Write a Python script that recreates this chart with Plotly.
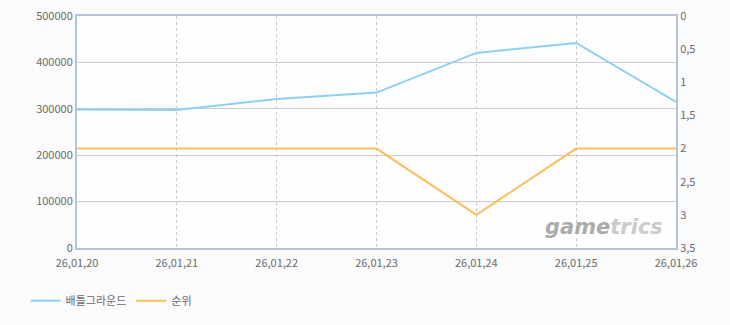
import plotly.graph_objects as go

dates = ["26,01,20", "26,01,21", "26,01,22", "26,01,23", "26,01,24", "26,01,25", "26,01,26"]
viewers = [298500, 297500, 321000, 335000, 420500, 442000, 315000]
rank = [2, 2, 2, 2, 3, 2, 2]
rank_ticks = [0, 0.5, 1, 1.5, 2, 2.5, 3, 3.5]
rank_tick_text = ["0", "0,5", "1", "1,5", "2", "2,5", "3", "3,5"]
left_ticks = [0, 100000, 200000, 300000, 400000, 500000]

BLUE = "#8fd0f2"
ORANGE = "#fcbd5a"
AXIS = "#b3c5d7"
TXT = "#6a6a6a"
FONT = "Noto Sans CJK KR, DejaVu Sans, sans-serif"

fig = go.Figure()
fig.add_trace(go.Scatter(x=dates, y=viewers, mode="lines", name="배틀그라운드",
                         line=dict(color=BLUE, width=2), yaxis="y"))
fig.add_trace(go.Scatter(x=dates, y=rank, mode="lines", name="순위",
                         line=dict(color=ORANGE, width=2), yaxis="y2"))

fig.update_layout(
    width=730, height=325,
    margin=dict(l=77, r=54, t=16, b=77, autoexpand=False),
    paper_bgcolor="#fbfbfb",
    plot_bgcolor="#fefefe",
    font=dict(family=FONT, size=11, color=TXT),
    showlegend=True,
    legend=dict(orientation="h", x=0.035, y=0.075, xref="container", yref="container",
                xanchor="left", yanchor="middle", font=dict(size=11, color=TXT),
                itemwidth=30, bgcolor="rgba(0,0,0,0)"),
    xaxis=dict(type="category", range=[0, 6], showgrid=True, gridcolor="#c9c9c9",
               griddash="3px,3px", gridwidth=1, showline=True, linecolor=AXIS, linewidth=2,
               mirror=True, ticks="", tickfont=dict(size=11, color=TXT), zeroline=False,
               ticklabelstandoff=4, automargin=False),
    yaxis=dict(range=[0, 500000], tickvals=left_ticks, tickformat="d",
               showgrid=True, gridcolor="#cccccc", gridwidth=1, showline=True,
               linecolor=AXIS, linewidth=2, ticks="", zeroline=False,
               tickfont=dict(size=11, color=TXT), automargin=False),
    yaxis2=dict(range=[3.5, 0], overlaying="y", side="right", tickvals=rank_ticks,
                ticktext=rank_tick_text, showgrid=False, showline=True,
                linecolor=AXIS, linewidth=2, ticks="", zeroline=False,
                tickfont=dict(size=11, color=TXT), automargin=False),
)

fig.add_annotation(
    x=0.982, y=0.09, xref="paper", yref="paper", xanchor="right", yanchor="middle",
    text="<b><i><span style='color:#ababab'>game</span><span style='color:#cbcbcb'>trics</span></i></b>",
    showarrow=False, font=dict(size=21, family="DejaVu Sans, sans-serif"),
)

fig.write_html("out.html")
